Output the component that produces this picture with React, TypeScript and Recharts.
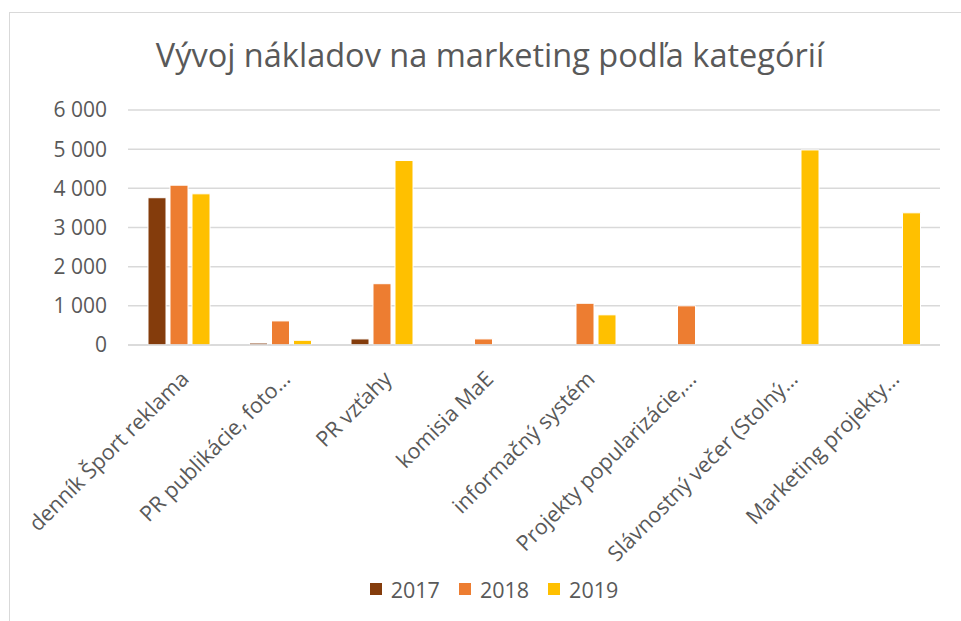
import { BarChart, Bar, XAxis, YAxis, CartesianGrid, Legend } from 'recharts';

const categories = [
  'denník Šport reklama',
  'PR publikácie, foto…',
  'PR vzťahy',
  'komisia MaE',
  'informačný systém',
  'Projekty popularizácie,…',
  'Slávnostný večer (Stolný…',
  'Marketing projekty…',
];

const values2017 = [3760, 50, 155, 0, 0, 0, 0, 0];
const values2018 = [4080, 615, 1565, 155, 1065, 1000, 0, 0];
const values2019 = [3860, 120, 4710, 0, 770, 0, 4980, 3375];

const yTicks = [0, 1000, 2000, 3000, 4000, 5000, 6000];

const seriesNames = ['2017', '2018', '2019'];
const seriesColors = ['#843C0C', '#ED7D31', '#FFC000'];

const data = categories.map((name, i) => ({
  name,
  y2017: values2017[i],
  y2018: values2018[i],
  y2019: values2019[i],
}));

const FONT = '"Open Sans", sans-serif';
const TEXT = '#595959';

const fmt = (n: number) => String(n).replace(/\B(?=(\d{3})+(?!\d))/g, ' ');

const CategoryTick = ({ x, y, payload }: any) => (
  <g transform={`translate(${x + 6},${y + 28}) rotate(-45)`}>
    <text x={0} y={0} dy="0.35em" textAnchor="end" fill={TEXT} fontSize={21.5} fontFamily={FONT}>
      {payload.value}
    </text>
  </g>
);

const LegendBox = () => (
  <div style={{ display: 'flex', justifyContent: 'center', alignItems: 'center', height: 30, paddingLeft: 48 }}>
    {seriesNames.map((s, i) => (
      <div key={s} style={{ display: 'flex', alignItems: 'center', marginRight: i < 2 ? 19 : 0 }}>
        <span style={{ display: 'inline-block', width: 12, height: 12, background: seriesColors[i], marginRight: 9 }} />
        <span style={{ fontFamily: FONT, fontSize: 21.5, color: TEXT }}>{s}</span>
      </div>
    ))}
  </div>
);

export default function App() {
  return (
    <div style={{ position: 'absolute', left: 0, top: 0, width: 961, height: 621, background: '#fff', overflow: 'hidden' }}>
      <div
        style={{
          position: 'absolute',
          left: 9,
          top: 12,
          width: 960,
          height: 620,
          borderLeft: '1px solid #d9d9d9',
          borderTop: '1px solid #d9d9d9',
        }}
      />
      <div
        style={{
          position: 'absolute',
          left: 0,
          top: 33,
          width: 980,
          textAlign: 'center',
          fontFamily: FONT,
          fontSize: 32.5,
          color: TEXT,
          lineHeight: '44px',
        }}
      >
        Vývoj nákladov na marketing podľa kategórií
      </div>
      <div style={{ position: 'absolute', left: 0, top: 0 }}>
        <BarChart
          width={961}
          height={621}
          data={data}
          margin={{ top: 110, right: 21, left: 0, bottom: 17 }}
          barSize={18}
          barGap={4}
        >
          <CartesianGrid vertical={false} stroke="#d9d9d9" strokeWidth={1.5} />
          <XAxis
            dataKey="name"
            interval={0}
            height={229}
            tickLine={false}
            tickSize={0}
            axisLine={{ stroke: '#d9d9d9', strokeWidth: 1.5 }}
            tick={<CategoryTick />}
          />
          <YAxis
            width={128}
            domain={[0, 6000]}
            ticks={yTicks}
            axisLine={false}
            tickLine={false}
            tickSize={0}
            tickMargin={21}
            tickFormatter={fmt}
            tick={{ fill: TEXT, fontSize: 21, fontFamily: FONT }}
          />
          <Legend verticalAlign="bottom" content={<LegendBox />} />
          <Bar dataKey="y2017" name="2017" fill={seriesColors[0]} stroke="#fff" strokeWidth={1} isAnimationActive={false} />
          <Bar dataKey="y2018" name="2018" fill={seriesColors[1]} stroke="#fff" strokeWidth={1} isAnimationActive={false} />
          <Bar dataKey="y2019" name="2019" fill={seriesColors[2]} stroke="#fff" strokeWidth={1} isAnimationActive={false} />
        </BarChart>
      </div>
    </div>
  );
}
